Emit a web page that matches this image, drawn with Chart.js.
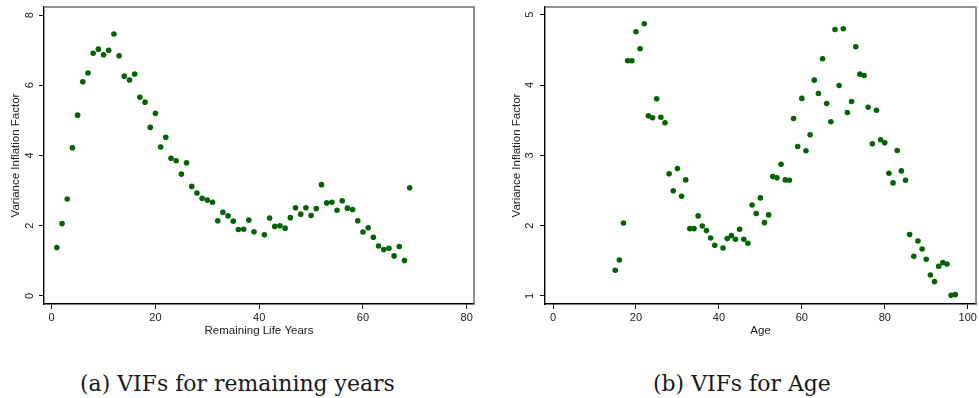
<!DOCTYPE html>
<html>
<head>
<meta charset="utf-8">
<script src="https://cdn.jsdelivr.net/npm/chart.js@4.4.1/dist/chart.umd.min.js"></script>
<style>
  html, body { margin:0; padding:0; background:#fff; width:979px; height:398px; overflow:hidden; }
  canvas { position:absolute; top:0; }
  #c1 { left:0; }
  #c2 { left:490px; }
  .cap { position:absolute; font-family:"DejaVu Serif","Liberation Serif",serif; font-size:20px; color:#1a1a1a; white-space:nowrap; line-height:1; }
</style>
</head>
<body>
<canvas id="c1" width="490" height="345"></canvas>
<canvas id="c2" width="489" height="345"></canvas>
<div class="cap" id="capA" style="left:80px; top:373px;">(a) VIFs for remaining years</div>
<div class="cap" id="capB" style="left:653px; top:373px;">(b) VIFs for Age</div>
<script>
// ---- data: panel (a) ----
const remYears = [1,2,3,4,5,6,7,8,9,10,11,12,13,14,15,16,17,18,19,20,21,22,23,24,25,26,27,28,29,30,31,32,33,34,35,36,37,38,39,41,42,43,44,45,46,47,48,49,50,51,52,53,54,55,56,57,58,59,60,61,62,63,64,65,66,67,68,69];
const remVIF = [1.38,2.06,2.76,4.22,5.15,6.10,6.35,6.91,7.03,6.87,7.00,7.46,6.84,6.26,6.15,6.32,5.66,5.52,4.80,5.20,4.24,4.52,3.92,3.85,3.47,3.79,3.12,2.93,2.78,2.73,2.67,2.14,2.38,2.28,2.13,1.89,1.90,2.16,1.83,1.74,2.22,1.98,2.00,1.93,2.23,2.51,2.33,2.51,2.29,2.49,3.17,2.65,2.67,2.44,2.71,2.50,2.46,2.14,1.82,1.94,1.67,1.42,1.32,1.36,1.14,1.41,1.01,3.08];
const remTicksX = [0,20,40,60,80];
const remTicksY = [0,2,4,6,8];

// ---- data: panel (b) ----
const ages = [15,16,17,18,19,20,21,22,23,24,25,26,27,28,29,30,31,32,33,34,35,36,37,38,39,41,42,43,44,45,46,47,48,49,50,51,52,53,54,55,56,57,58,59,60,61,62,63,64,65,66,67,68,69,70,71,72,73,74,75,76,77,78,79,80,81,82,83,84,85,86,87,88,89,90,91,92,93,94,95,96,97];
const ageVIF = [1.365,1.512,2.039,4.345,4.345,4.758,4.516,4.872,3.562,3.534,3.804,3.543,3.463,2.737,2.495,2.812,2.418,2.651,1.958,1.958,2.139,1.996,1.930,1.825,1.720,1.683,1.816,1.858,1.806,1.950,1.806,1.749,2.295,2.172,2.395,2.043,2.153,2.698,2.680,2.873,2.651,2.646,3.524,3.125,3.810,3.066,3.292,4.070,3.880,4.374,3.737,3.477,4.791,3.994,4.800,3.610,3.766,4.544,4.155,4.136,3.685,3.164,3.642,3.221,3.178,2.745,2.608,3.070,2.779,2.646,1.873,1.564,1.783,1.669,1.521,1.299,1.204,1.422,1.474,1.455,1.009,1.019];
const ageTicksX = [0,20,40,60,80,100];
const ageTicksY = [1,2,3,4,5];

const yTitle = "Variance Inflation Factor";
const MARK = '#006400';
const SANS = '"Liberation Sans", Arial, sans-serif';

function makeChart(id, xs, ys, tx, ty, xr, yr, xTitle, geo) {
  const pts = xs.map((x, i) => ({x: x, y: ys[i]}));
  const deco = {
    id: 'deco' + id,
    afterDraw(chart) {
      const ctx = chart.ctx, a = chart.chartArea;
      const ysc = chart.scales.y;
      ctx.save();
      ctx.strokeStyle = '#6e6e6e';
      ctx.lineWidth = 1.5;
      ctx.beginPath();
      ctx.moveTo(a.left, a.top); ctx.lineTo(a.right, a.top); ctx.lineTo(a.right, a.bottom);
      ctx.stroke();
      ctx.fillStyle = '#222';
      ctx.font = '11px ' + SANS;
      ctx.textAlign = 'center';
      ctx.textBaseline = 'middle';
      ty.forEach(v => {
        const py = ysc.getPixelForValue(v);
        ctx.save();
        ctx.translate(geo.yLabX, py);
        ctx.rotate(-Math.PI / 2);
        ctx.fillText(String(v), 0, 0);
        ctx.restore();
      });
      ctx.font = '11.5px ' + SANS;
      ctx.save();
      ctx.translate(geo.yTitleX, (a.top + a.bottom) / 2);
      ctx.rotate(-Math.PI / 2);
      ctx.fillText(yTitle, 0, 0);
      ctx.restore();
      ctx.fillText(xTitle, (a.left + a.right) / 2, geo.xTitleY);
      ctx.restore();
    }
  };
  return new Chart(document.getElementById(id), {
    type: 'scatter',
    data: { datasets: [{ data: pts, backgroundColor: MARK, borderColor: MARK, pointRadius: 2.8, pointBorderWidth: 0, pointHoverRadius: 2.8 }] },
    options: {
      responsive: false, animation: false, devicePixelRatio: 1,
      layout: { padding: { left: 0, top: geo.top, right: geo.right, bottom: 0 } },
      plugins: { legend: { display: false }, tooltip: { enabled: false } },
      scales: {
        x: {
          type: 'linear', min: xr[0], max: xr[1],
          afterBuildTicks: s => { s.ticks = tx.map(v => ({value: v})); },
          afterFit: s => { s.height = geo.xH; },
          grid: { display: true, drawOnChartArea: false, drawTicks: true, tickLength: 5, tickColor: '#111', tickWidth: 1 },
          border: { display: true, color: '#000', width: 1.4 },
          ticks: { color: '#222', font: { family: SANS, size: 11 }, padding: 2, maxRotation: 0, autoSkip: false }
        },
        y: {
          type: 'linear', min: yr[0], max: yr[1],
          afterBuildTicks: s => { s.ticks = ty.map(v => ({value: v})); },
          afterFit: s => { s.width = geo.yW; },
          grid: { display: true, drawOnChartArea: false, drawTicks: true, tickLength: 5, tickColor: '#111', tickWidth: 1 },
          border: { display: true, color: '#000', width: 1.4 },
          ticks: { display: false }
        }
      }
    },
    plugins: [deco]
  });
}

makeChart('c1', remYears, remVIF, remTicksX, remTicksY, [-1.48, 81.4], [-0.23, 8.23], 'Remaining Life Years',
  { top: 7, right: 16, yW: 44, xH: 41, yLabX: 29.5, yTitleX: 16, xTitleY: 331 });
makeChart('c2', ages, ageVIF, ageTicksX, ageTicksY, [-1.93, 102.0], [0.886, 5.11], 'Age',
  { top: 7, right: 3, yW: 55, xH: 41, yLabX: 40, yTitleX: 27, xTitleY: 331 });

// fit caption size to the reference caption width
(function fitCaptions() {
  const a = document.getElementById('capA'), b = document.getElementById('capB');
  const w = a.getBoundingClientRect().width;
  if (w > 0) {
    const size = 20 * 315 / w;
    a.style.fontSize = size + 'px';
    b.style.fontSize = size + 'px';
  }
})();
</script>
</body>
</html>
